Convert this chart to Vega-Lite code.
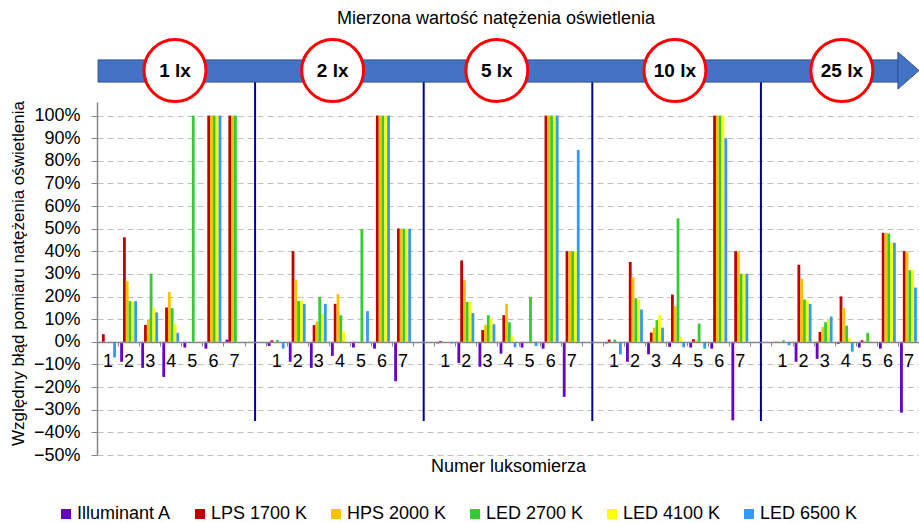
{
  "$schema": "https://vega.github.io/schema/vega-lite/v6.json",
  "width": 822,
  "height": 353,
  "autosize": {"type": "none"},
  "padding": {"left": 97, "top": 102, "right": 0, "bottom": 68},
  "background": "white",
  "config": {"font": "Liberation Sans", "view": {"stroke": null}},
  "datasets": {
    "meters": [
      {"c": "a1", "Illuminant A": -0.005, "LPS 1700 K": 0.034, "HPS 2000 K": 0, "LED 2700 K": 0, "LED 4100 K": 0, "LED 6500 K": -0.069},
      {"c": "a2", "Illuminant A": -0.088, "LPS 1700 K": 0.462, "HPS 2000 K": 0.268, "LED 2700 K": 0.18, "LED 4100 K": 0.18, "LED 6500 K": 0.18},
      {"c": "a3", "Illuminant A": -0.115, "LPS 1700 K": 0.075, "HPS 2000 K": 0.097, "LED 2700 K": 0.301, "LED 4100 K": 0.149, "LED 6500 K": 0.13},
      {"c": "a4", "Illuminant A": -0.155, "LPS 1700 K": 0.152, "HPS 2000 K": 0.22, "LED 2700 K": 0.149, "LED 4100 K": 0.08, "LED 6500 K": 0.04},
      {"c": "a5", "Illuminant A": -0.025, "LPS 1700 K": 0, "HPS 2000 K": 0, "LED 2700 K": 1.0, "LED 4100 K": 0, "LED 6500 K": 0},
      {"c": "a6", "Illuminant A": -0.03, "LPS 1700 K": 1.0, "HPS 2000 K": 1.0, "LED 2700 K": 1.0, "LED 4100 K": 1.0, "LED 6500 K": 1.0},
      {"c": "a7", "Illuminant A": 0.01, "LPS 1700 K": 1.0, "HPS 2000 K": 1.0, "LED 2700 K": 1.0, "LED 4100 K": 0, "LED 6500 K": 0},
      {"c": "b1", "Illuminant A": -0.018, "LPS 1700 K": 0.007, "HPS 2000 K": 0, "LED 2700 K": 0.009, "LED 4100 K": 0, "LED 6500 K": -0.03},
      {"c": "b2", "Illuminant A": -0.088, "LPS 1700 K": 0.401, "HPS 2000 K": 0.273, "LED 2700 K": 0.18, "LED 4100 K": 0.184, "LED 6500 K": 0.168},
      {"c": "b3", "Illuminant A": -0.115, "LPS 1700 K": 0.074, "HPS 2000 K": 0.09, "LED 2700 K": 0.199, "LED 4100 K": 0.124, "LED 6500 K": 0.168},
      {"c": "b4", "Illuminant A": -0.062, "LPS 1700 K": 0.168, "HPS 2000 K": 0.211, "LED 2700 K": 0.118, "LED 4100 K": 0.046, "LED 6500 K": 0},
      {"c": "b5", "Illuminant A": -0.025, "LPS 1700 K": 0, "HPS 2000 K": 0, "LED 2700 K": 0.499, "LED 4100 K": 0, "LED 6500 K": 0.136},
      {"c": "b6", "Illuminant A": -0.03, "LPS 1700 K": 1.0, "HPS 2000 K": 1.0, "LED 2700 K": 1.0, "LED 4100 K": 1.0, "LED 6500 K": 1.0},
      {"c": "b7", "Illuminant A": -0.174, "LPS 1700 K": 0.501, "HPS 2000 K": 0.5, "LED 2700 K": 0.5, "LED 4100 K": 0.5, "LED 6500 K": 0.5},
      {"c": "c1", "Illuminant A": -0.007, "LPS 1700 K": 0.004, "HPS 2000 K": 0, "LED 2700 K": 0, "LED 4100 K": -0.004, "LED 6500 K": -0.007},
      {"c": "c2", "Illuminant A": -0.093, "LPS 1700 K": 0.36, "HPS 2000 K": 0.273, "LED 2700 K": 0.177, "LED 4100 K": 0.177, "LED 6500 K": 0.127},
      {"c": "c3", "Illuminant A": -0.11, "LPS 1700 K": 0.052, "HPS 2000 K": 0.075, "LED 2700 K": 0.118, "LED 4100 K": 0.103, "LED 6500 K": 0.078},
      {"c": "c4", "Illuminant A": -0.052, "LPS 1700 K": 0.118, "HPS 2000 K": 0.168, "LED 2700 K": 0.087, "LED 4100 K": 0.025, "LED 6500 K": -0.024},
      {"c": "c5", "Illuminant A": -0.025, "LPS 1700 K": 0, "HPS 2000 K": 0, "LED 2700 K": 0.199, "LED 4100 K": 0, "LED 6500 K": -0.019},
      {"c": "c6", "Illuminant A": -0.03, "LPS 1700 K": 1.0, "HPS 2000 K": 1.0, "LED 2700 K": 1.0, "LED 4100 K": 1.0, "LED 6500 K": 1.0},
      {"c": "c7", "Illuminant A": -0.243, "LPS 1700 K": 0.401, "HPS 2000 K": 0.4, "LED 2700 K": 0.4, "LED 4100 K": 0.4, "LED 6500 K": 0.848},
      {"c": "d1", "Illuminant A": -0.007, "LPS 1700 K": 0.01, "HPS 2000 K": 0, "LED 2700 K": 0.01, "LED 4100 K": 0, "LED 6500 K": -0.055},
      {"c": "d2", "Illuminant A": -0.088, "LPS 1700 K": 0.353, "HPS 2000 K": 0.285, "LED 2700 K": 0.193, "LED 4100 K": 0.187, "LED 6500 K": 0.143},
      {"c": "d3", "Illuminant A": -0.055, "LPS 1700 K": 0.041, "HPS 2000 K": 0.063, "LED 2700 K": 0.096, "LED 4100 K": 0.118, "LED 6500 K": 0.063},
      {"c": "d4", "Illuminant A": -0.022, "LPS 1700 K": 0.209, "HPS 2000 K": 0.158, "LED 2700 K": 0.546, "LED 4100 K": 0.022, "LED 6500 K": -0.024},
      {"c": "d5", "Illuminant A": -0.025, "LPS 1700 K": 0.012, "HPS 2000 K": 0.006, "LED 2700 K": 0.081, "LED 4100 K": 0, "LED 6500 K": -0.03},
      {"c": "d6", "Illuminant A": -0.03, "LPS 1700 K": 1.0, "HPS 2000 K": 1.0, "LED 2700 K": 1.0, "LED 4100 K": 1.0, "LED 6500 K": 0.9},
      {"c": "d7", "Illuminant A": -0.347, "LPS 1700 K": 0.401, "HPS 2000 K": 0.398, "LED 2700 K": 0.301, "LED 4100 K": 0.301, "LED 6500 K": 0.301},
      {"c": "e1", "Illuminant A": -0.002, "LPS 1700 K": -0.004, "HPS 2000 K": 0, "LED 2700 K": 0.007, "LED 4100 K": 0, "LED 6500 K": -0.015},
      {"c": "e2", "Illuminant A": -0.088, "LPS 1700 K": 0.341, "HPS 2000 K": 0.279, "LED 2700 K": 0.187, "LED 4100 K": 0.183, "LED 6500 K": 0.168},
      {"c": "e3", "Illuminant A": -0.075, "LPS 1700 K": 0.044, "HPS 2000 K": 0.066, "LED 2700 K": 0.087, "LED 4100 K": 0.099, "LED 6500 K": 0.112},
      {"c": "e4", "Illuminant A": -0.009, "LPS 1700 K": 0.201, "HPS 2000 K": 0.15, "LED 2700 K": 0.072, "LED 4100 K": 0.016, "LED 6500 K": -0.043},
      {"c": "e5", "Illuminant A": -0.025, "LPS 1700 K": 0.007, "HPS 2000 K": 0.003, "LED 2700 K": 0.04, "LED 4100 K": 0.005, "LED 6500 K": 0},
      {"c": "e6", "Illuminant A": -0.03, "LPS 1700 K": 0.482, "HPS 2000 K": 0.482, "LED 2700 K": 0.479, "LED 4100 K": 0.438, "LED 6500 K": 0.438},
      {"c": "e7", "Illuminant A": -0.313, "LPS 1700 K": 0.401, "HPS 2000 K": 0.398, "LED 2700 K": 0.317, "LED 4100 K": 0.317, "LED 6500 K": 0.24}
    ],
    "gaps": [{"pos": 7.5}, {"pos": 15.5}, {"pos": 23.5}, {"pos": 31.5}],
    "lux": [
      {"lux": "1 lx", "pos": 3.7},
      {"lux": "2 lx", "pos": 11.18},
      {"lux": "5 lx", "pos": 18.97},
      {"lux": "10 lx", "pos": 27.42},
      {"lux": "25 lx", "pos": 35.34}
    ],
    "one": [{"name": "arrow"}]
  },
  "layer": [
    {
      "data": {"name": "meters"},
      "transform": [{"fold": ["Illuminant A", "LPS 1700 K", "HPS 2000 K", "LED 2700 K", "LED 4100 K", "LED 6500 K"], "as": ["series", "value"]}],
      "mark": {"type": "bar"},
      "encoding": {
        "x": {
          "field": "c", "type": "nominal",
          "scale": {"domain": ["a1","a2","a3","a4","a5","a6","a7","g1","b1","b2","b3","b4","b5","b6","b7","g2","c1","c2","c3","c4","c5","c6","c7","g3","d1","d2","d3","d4","d5","d6","d7","g4","e1","e2","e3","e4","e5","e6","e7"], "paddingInner": 0, "paddingOuter": 0},
          "axis": {
            "title": "Numer luksomierza",
            "labelExpr": "isString(datum.value) && substring(datum.value,0,1) != 'g' ? substring(datum.value,1) : ''",
            "labelAngle": 0, "offset": -113, "tickBand": "extent", "tickSize": 4,
            "tickColor": "#868686", "domainColor": "#868686", "domainWidth": 1.5,
            "labelFontSize": 18, "labelColor": "#000000", "labelPadding": 6, "labelFont": "Liberation Sans", "labelOverlap": false,
            "titleFontSize": 18, "titleFontWeight": "normal", "titleColor": "#000000", "titleFont": "Liberation Sans",
            "titleY": 124, "titleBaseline": "middle", "grid": false, "zindex": 1
          }
        },
        "xOffset": {"field": "series", "type": "nominal", "sort": ["Illuminant A", "LPS 1700 K", "HPS 2000 K", "LED 2700 K", "LED 4100 K", "LED 6500 K"], "scale": {"paddingInner": 0, "paddingOuter": 0.75}},
        "y": {
          "field": "value", "type": "quantitative",
          "scale": {"domain": [-0.5, 1.06], "nice": false, "zero": false},
          "axis": {
            "title": "Względny błąd pomiaru natężenia oświetlenia",
            "values": [-0.5, -0.4, -0.3, -0.2, -0.1, 0, 0.1, 0.2, 0.3, 0.4, 0.5, 0.6, 0.7, 0.8, 0.9, 1.0],
            "format": ".0%", "grid": true, "gridDash": [6, 4], "gridColor": "#BFBFBF", "gridWidth": 1,
            "tickSize": 6, "tickColor": "#868686", "domainColor": "#868686", "domainWidth": 1.5,
            "labelFontSize": 18, "labelColor": "#000000", "labelPadding": 11, "labelFont": "Liberation Sans", "labelOverlap": false, "labelBaseline": "middle",
            "titleFontSize": 17, "titleFontWeight": "normal", "titleColor": "#000000", "titleFont": "Liberation Sans",
            "titleX": -79, "titleY": 171, "titleAngle": 270, "titleBaseline": "middle", "titleAlign": "center"
          }
        },
        "color": {
          "field": "series", "type": "nominal",
          "scale": {"domain": ["Illuminant A", "LPS 1700 K", "HPS 2000 K", "LED 2700 K", "LED 4100 K", "LED 6500 K"], "range": ["#6600CC", "#C00000", "#FFC000", "#33CC33", "#FFFF00", "#3399FF"]},
          "legend": {
            "orient": "none", "legendX": -40, "legendY": 403, "direction": "horizontal", "columns": 6,
            "title": null, "symbolType": "square", "symbolSize": 100, "symbolStrokeWidth": 0,
            "labelFontSize": 18, "labelColor": "#000000", "labelFont": "Liberation Sans", "labelOffset": 2, "columnPadding": 19, "labelLimit": 200
          }
        }
      }
    },
    {
      "layer": [
        {
          "data": {"name": "gaps"},
          "mark": {"type": "rule", "color": "#000099", "strokeWidth": 2},
          "encoding": {
            "x": {"field": "pos", "type": "quantitative", "scale": {"domain": [0, 39], "nice": false, "zero": false}, "axis": null},
            "y": {"datum": -0.35, "type": "quantitative", "scale": {"domain": [-0.5, 1.06], "nice": false, "zero": false}, "axis": null},
            "y2": {"datum": 1.15}
          }
        },
        {
          "data": {"name": "one"},
          "mark": {"type": "rect", "color": "#4472C4", "stroke": "#2F528F", "strokeWidth": 1},
          "encoding": {
            "x": {"datum": 0.05, "type": "quantitative"},
            "x2": {"datum": 38.0},
            "y": {"datum": 1.148, "type": "quantitative"},
            "y2": {"datum": 1.246}
          }
        },
        {
          "data": {"name": "one"},
          "mark": {"type": "point", "shape": "M -0.57 -1 L 0.57 0 L -0.57 1 Z", "filled": true, "color": "#4472C4", "stroke": "#2F528F", "strokeWidth": 1, "opacity": 1, "size": 1369},
          "encoding": {
            "x": {"datum": 38.5, "type": "quantitative"},
            "y": {"datum": 1.199, "type": "quantitative"}
          }
        },
        {
          "data": {"name": "lux"},
          "mark": {"type": "point", "shape": "circle", "fill": "white", "stroke": "#FF0000", "strokeWidth": 3, "opacity": 1, "fillOpacity": 1, "size": 3844},
          "encoding": {
            "x": {"field": "pos", "type": "quantitative"},
            "y": {"datum": 1.199, "type": "quantitative"}
          }
        },
        {
          "data": {"name": "lux"},
          "mark": {"type": "text", "fontSize": 19, "fontWeight": "bold", "color": "#000000", "font": "Liberation Sans", "baseline": "middle", "align": "center"},
          "encoding": {
            "x": {"field": "pos", "type": "quantitative"},
            "y": {"datum": 1.199, "type": "quantitative"},
            "text": {"field": "lux"}
          }
        },
        {
          "data": {"name": "one"},
          "mark": {"type": "text", "fontSize": 18, "color": "#000000", "font": "Liberation Sans", "baseline": "middle", "align": "center"},
          "encoding": {
            "x": {"datum": 18.93, "type": "quantitative"},
            "y": {"datum": 1.427, "type": "quantitative"},
            "text": {"value": "Mierzona wartość natężenia oświetlenia"}
          }
        }
      ]
    }
  ],
  "resolve": {"scale": {"x": "independent", "y": "independent"}}
}
